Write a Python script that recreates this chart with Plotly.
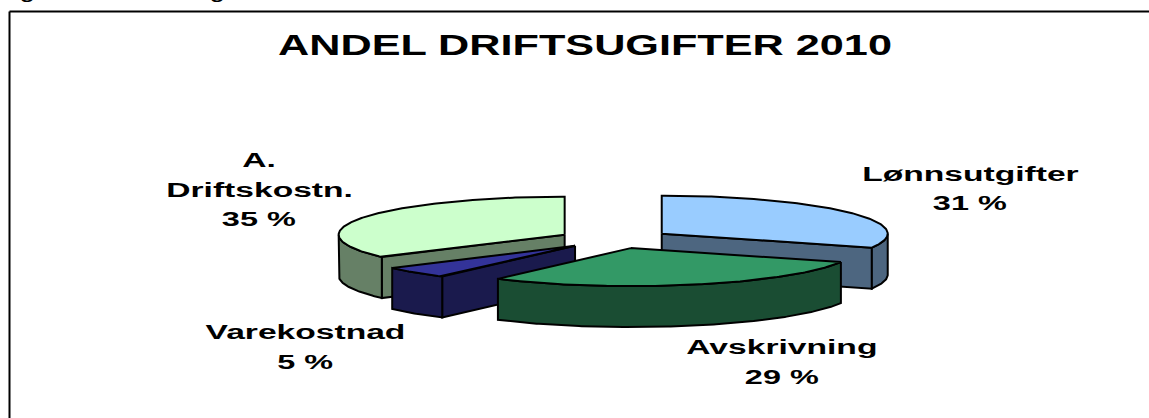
import math
import plotly.graph_objects as go

TITLE = "ANDEL DRIFTSUGIFTER 2010"
categories = ["Lønnsutgifter", "Avskrivning", "Varekostnad", "A. Driftskostn."]
values = [31, 29, 5, 35]
top_colors = ["#99CCFF", "#339966", "#333399", "#CCFFCC"]
wall_colors = ["#4D6680", "#1A4D33", "#1A1A4D", "#668066"]
label_lines = [["Lønnsutgifter", "31 %"], ["Avskrivning", "29 %"], ["Varekostnad", "5 %"], ["A.", "Driftskostn.", "35 %"]]
label_pos = [(970, 173.5), (781.5, 347), (305, 332), (259, 160)]
draw_order = [3, 0, 2, 1]

W, H = 1149, 418
CX, CY = 615, 239      # pie centre
RX, RY = 226, 38       # ellipse radii
DEPTH = 41
EXPLODE = 0.25
LINE = 2


def pt(cx, cy, deg):
    t = math.radians(deg)
    return cx + RX * math.sin(t), cy - RY * math.cos(t)


def arc(cx, cy, a, b):
    n = max(2, int(abs(b - a) * 1.5))
    return [pt(cx, cy, a + (b - a) * i / n) for i in range(n + 1)]


def poly(points, fill):
    xs = [p[0] for p in points] + [points[0][0]]
    ys = [p[1] for p in points] + [points[0][1]]
    return go.Scatter(x=xs, y=ys, mode="lines", fill="toself", fillcolor=fill,
                      line=dict(color="black", width=LINE), hoverinfo="skip", showlegend=False)


total = sum(values)
fig = go.Figure()
starts, s = [], 0.0
for v in values:
    starts.append(s)
    s += v / total * 360

for i in draw_order:
    a = starts[i]
    b = a + values[i] / total * 360
    m = math.radians((a + b) / 2)
    ax = CX + EXPLODE * RX * math.sin(m)
    ay = CY - EXPLODE * RY * math.cos(m)
    for edge, visible in ((a, math.sin(math.radians(a)) < -1e-6), (b, math.sin(math.radians(b)) > 1e-6)):
        if visible:
            p = pt(ax, ay, edge)
            fig.add_trace(poly([(ax, ay), p, (p[0], p[1] + DEPTH), (ax, ay + DEPTH)], wall_colors[i]))
    lo, hi = max(a, 90), min(b, 270)
    if lo < hi:
        top = arc(ax, ay, lo, hi)
        fig.add_trace(poly(top + [(x, y + DEPTH) for x, y in reversed(top)], wall_colors[i]))
    fig.add_trace(poly([(ax, ay)] + arc(ax, ay, a, b), top_colors[i]))

FONT = "Liberation Sans"
ann = [dict(x=585, y=45, text=TITLE, font=dict(size=29, family=FONT, color="black", weight=700))]
for lines, (lx, ly) in zip(label_lines, label_pos):
    for k, t in enumerate(lines):
        ann.append(dict(x=lx, y=ly + k * 29.5, text=t, font=dict(size=20, family=FONT, color="black", weight=700)))
for a_ in ann:
    a_.update(xref="x", yref="y", showarrow=False, xanchor="center", yanchor="middle")
for gx in (27, 217):
    ann.append(dict(x=gx, y=0, yshift=-5, text="g", xref="x", yref="y", showarrow=False, xanchor="center",
                    yanchor="bottom", font=dict(size=17, family=FONT, color="black", weight=700)))

fig.update_layout(
    width=W, height=H, margin=dict(l=0, r=0, t=0, b=0),
    paper_bgcolor="white", plot_bgcolor="white", showlegend=False,
    xaxis=dict(range=[0, W], visible=False, fixedrange=True),
    yaxis=dict(range=[H, 0], visible=False, fixedrange=True),
    annotations=ann,
    shapes=[
        dict(type="line", xref="x", yref="y", x0=9.5, y0=11.5, x1=W, y1=11.5, line=dict(color="black", width=2)),
        dict(type="line", xref="x", yref="y", x0=9.5, y0=11.5, x1=9.5, y1=H, line=dict(color="black", width=2)),
    ],
)
# The reference text is horizontally stretched: widen the real text glyphs.
stretch_js = """
document.body.style.margin='0';document.body.style.overflow='hidden';
document.querySelectorAll('.annotation-text').forEach(function(t){
  var s=t.textContent;
  var k=(s.indexOf('ANDEL')===0)?1.49:(s==='g'?1.4:(s.indexOf('%')>=0?1.62:1.68));
  var w=t.getComputedTextLength();
  t.setAttribute('lengthAdjust','spacingAndGlyphs');
  t.setAttribute('textLength',(w*k).toFixed(1));
});
"""
fig.write_html("out.html", config={"displayModeBar": False}, post_script=stretch_js)
